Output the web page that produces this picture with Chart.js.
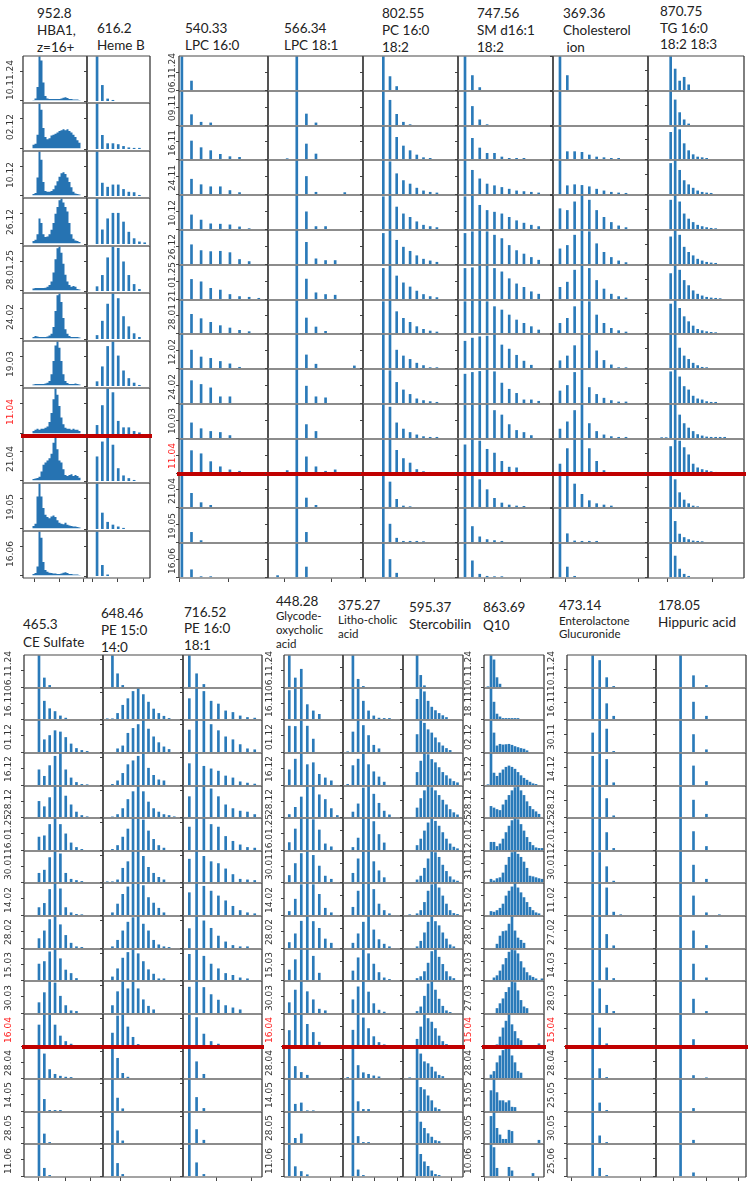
<!DOCTYPE html>
<html>
<head>
<meta charset="utf-8">
<title>Intensity patterns per sampling date</title>
<script src="https://cdn.jsdelivr.net/npm/chart.js@4.4.1/dist/chart.umd.min.js"></script>
<style>
  html, body { margin: 0; padding: 0; background: #fff; }
  #stage { position: relative; width: 754px; height: 1192px; overflow: hidden; }
  .panel { position: absolute; }
  .panel canvas { display: block; }
  .date { position: absolute; white-space: nowrap; font: 9px "DejaVu Sans", sans-serif; color: #333;
          line-height: 1; transform: translate(-50%, -50%) rotate(-90deg); z-index: 5; }
  .date.red { color: #ff2020; }
  .head { position: absolute; white-space: pre; font: 13.5px Lato, sans-serif; color: #222; line-height: 18px; height: 18px; }
  .head.small { font-size: 11.5px; }
</style>
</head>
<body>
<div id="stage"></div>
<script>
// --- sampling dates, one list per block of panels ---
const datesA = ['10.11.24', '02.12', '10.12', '26.12', '28.01.25', '24.02', '19.03', '11.04', '21.04', '19.05', '16.06'];
const datesB = ['06.11.24', '09.11', '16.11', '24.11', '10.12', '26.12', '21.01.25', '28.01', '12.02', '24.02', '10.03', '11.04', '21.04', '19.05', '16.06'];
const datesC = ['06.11.24', '16.11', '01.12', '16.12', '28.12', '16.01.25', '30.01', '14.02', '28.02', '15.03', '30.03', '16.04', '28.04', '14.05', '28.05', '11.06'];
const datesE = ['10.11.24', '18.11', '02.12', '15.12', '28.12', '12.01.25', '31.01', '15.02', '28.02', '12.03', '27.03', '15.04', '28.04', '15.05', '30.05', '10.06'];
const datesF = ['10.11.24', '16.11', '30.11', '14.12', '28.12', '12.01.25', '30.01', '11.02', '27.02', '14.03', '28.03', '15.04', '28.04', '25.05', '30.05', '25.06'];

// --- relative intensities (tallest peak = 100), one row per date, one value per m/z slot ---
const hba1 = [
  [0,0,0,0,1,4,30,100,90,40,10,4,3,3,3,3,3,3,4,6,7,5,3,3,2,2,2,1,0,0],
  [0,0,0,0,8,10,30,100,85,45,25,20,22,28,30,32,35,38,40,42,40,42,38,35,30,25,18,12,0,0],
  [0,0,0,0,3,5,40,100,80,30,10,8,8,10,14,22,32,42,50,52,48,40,30,18,8,4,3,2,0,0],
  [0,0,0,0,5,8,20,55,45,20,14,15,20,30,45,65,80,95,100,90,80,70,45,20,10,6,5,3,0,0],
  [0,0,0,0,4,5,5,5,5,5,6,8,12,20,40,70,95,100,85,60,35,20,12,8,10,8,3,2,0,0],
  [0,0,0,0,3,5,4,3,3,3,3,4,6,10,25,60,95,100,80,45,20,10,5,3,3,3,3,2,0,0],
  [0,0,0,0,2,3,3,3,3,3,4,6,10,25,55,90,100,85,55,25,10,5,3,3,3,4,3,2,0,0],
  [0,0,0,0,5,8,10,8,10,10,12,15,25,45,75,100,85,60,35,20,12,10,10,8,10,8,8,5,0,0],
  [0,0,0,0,3,4,5,8,20,35,40,45,50,60,85,100,70,45,40,25,12,10,12,14,10,12,10,6,0,0],
  [0,0,0,0,5,10,70,100,70,45,30,25,22,26,28,25,18,12,10,9,12,8,6,5,4,4,3,2,0,0],
  [0,0,0,0,3,5,20,100,85,30,12,8,6,5,4,4,3,3,4,6,7,5,3,3,2,2,2,1,0,0]
];
const hemeB = [
  [100,35,5,2],
  [100,30,12,12,10,6,3,2,2],
  [100,29,20,25,25,15,9,8,2],
  [100,31,55,67,67,48,26,12,5,3],
  [10,35,74,100,95,65,35,15,4],
  [8,39,76,100,88,49,27,12,4],
  [10,43,88,100,67,34,17,7,2],
  [19,62,100,90,28,14,14,6,3],
  [54,87,100,80,28,12,6,2],
  [100,35,15,9,5,2],
  [100,24,3]
];
const lpc160 = [
  [100,27],
  [100,31,9,7],
  [100,55,35,26,15,8,6],
  [100,44,28,22,22,11,5],
  [100,42,27,16,15,13,7,2],
  [100,57,40,37,38,34,14,8],
  [100,58,51,32,27,14,8,6,3],
  [100,57,44,33,23,16,9,5],
  [100,53,33,29,20,13,3],
  [100,66,55,45,19,19],
  [100,45,28,20,17,8],
  [100,66,57,34,19,10,6],
  [100,42,14,6],
  [100,29,5],
  [100,22,2,2]
];
const lpc181 = [
  [0,0,100],
  [0,0,100,33,7],
  [0,2,100,46,16],
  [0,0,100,52,6,0,0,5],
  [0,0,100,51,8,8],
  [0,0,100,64,16,11,11],
  [0,0,100,59,19,14,12],
  [0,0,100,46,19,6],
  [0,0,100,39,12,0,0,0,7],
  [0,0,100,50,19,16],
  [0,0,100,40,20],
  [0,8,100,48,19,6,10],
  [0,0,100,28,6],
  [0,0,100,29],
  [5,0,100,30]
];
const pc = [
  [100,40,11],
  [100,73,32,9,2],
  [100,100,66,40,26,13,5,3],
  [100,95,60,40,30,18,10,6,4],
  [95,100,65,45,35,22,12,8,5],
  [90,100,70,50,38,25,15,10,6],
  [90,100,68,48,36,24,14,8,5],
  [95,100,65,45,33,20,12,7,4],
  [100,100,53,36,26,15,8,2,2],
  [100,95,61,39,26,13,8,5,3],
  [100,91,45,27,17,10,5,3,3],
  [97,100,67,43,30,11,5,3],
  [100,76,24,4,2],
  [100,53,12,3,3,3,2],
  [100,52,12]
];
const sm = [
  [100,43,8],
  [100,55,16,2],
  [100,63,34,18,18,7,3,3,3],
  [100,70,45,30,25,20,15,10,8,6,4],
  [95,100,70,55,50,45,35,25,18,12,8],
  [90,95,100,95,85,75,55,40,30,20,12],
  [90,92,100,100,90,80,60,45,35,22,15],
  [95,100,100,95,80,70,55,40,30,20,10],
  [79,88,92,94,100,68,56,38,21,9],
  [85,90,93,100,92,59,41,29,10,10,6],
  [96,98,100,99,81,68,40,23,17,8],
  [83,100,94,70,59,35,18,16,3],
  [100,98,83,53,27,13,7,4,3],
  [100,46,16,8,5,3],
  [100,48,9,3,2,2]
];
const chol = [
  [100,43],
  [100],
  [100,23,23,21,13,7,5,3,3],
  [100,25,28,26,22,15,10,6,4,3],
  [60,55,80,100,85,55,35,20,10,5],
  [45,55,85,100,95,60,35,20,10,5],
  [35,50,85,100,90,55,30,15,8,4],
  [30,45,80,100,95,55,30,15,8,4],
  [22,36,66,100,100,51,23,10,2,2],
  [36,52,90,100,46,26,15,8,4,4],
  [27,48,81,100,43,20,10,5,3,3],
  [27,72,100,100,72,35,8,3],
  [94,100,70,39,20,11,7,4],
  [100,25,4,3,3,3],
  [100,30,3]
];
const tg = [
  [0,0,100,62,27,38,16],
  [0,0,100,74,37,16,4],
  [0,0,81,100,89,47,26,14,7,5,3],
  [0,0,90,100,70,40,28,18,10,6,4,3],
  [0,0,85,100,80,45,30,20,12,8,5,3,2],
  [0,0,80,100,85,50,35,25,15,10,6,4,3],
  [0,0,75,100,85,55,40,25,15,10,6,4,3,2],
  [0,0,88,100,75,50,35,22,12,8,5,3,2],
  [0,0,100,98,59,36,26,15,8,3,2],
  [0,0,92,100,77,49,39,21,13,10,5,3,3],
  [2,2,100,98,68,43,30,20,11,7,4,3,3,3,3],
  [0,0,78,100,94,75,54,27,16,11,8,5,3],
  [0,0,100,83,44,22,11,4,2],
  [0,0,100,61,24,14,8,4,3,2],
  [0,0,100,62,24,9,3]
];
const ceSulfate = [
  [100,29,6],
  [100,58,34,25,11,4],
  [100,39,52,67,63,46,26,12,6,3],
  [48,28,61,90,100,48,23,9,3,2],
  [51,34,63,100,100,68,40,17,6,2],
  [41,45,80,100,80,51,23,9,3],
  [29,39,79,100,91,29,10,6,3],
  [24,37,80,100,82,24,8,3,2],
  [30,54,89,100,73,40,16,5,3],
  [52,60,91,100,69,33,22,6],
  [33,64,100,94,53,24,8,6],
  [66,100,98,66,32,15,7],
  [100,78,28,13,7,4,3],
  [100,37,3,3,3],
  [100,30,3],
  [100,25,3]
];
const pe150 = [
  [0,100,42,6],
  [2,2,19,45,66,89,100,79,55,33,19,10,3],
  [0,0,11,20,59,74,86,100,72,48,30,17,9],
  [0,3,14,37,64,76,90,100,53,31,17,14],
  [0,1,9,28,57,82,100,82,49,28,17,9,6,2],
  [0,3,15,41,66,100,97,94,60,34,15,7],
  [2,2,8,45,66,98,100,83,48,29,16,8],
  [0,8,35,65,88,100,96,92,55,38,22,8],
  [0,5,25,54,81,95,100,75,54,25,11,5,3],
  [0,11,37,71,89,100,85,60,34,20,5,5],
  [0,24,67,100,76,96,76,42,22,11],
  [0,41,94,100,60,28,6,3],
  [0,100,64,16,4],
  [0,100,41,8],
  [0,100,40,8],
  [0,100,40,6]
];
const pe160 = [
  [100,42,9],
  [66,100,89,58,49,27,22,11,6,4],
  [69,100,97,86,67,48,39,24,11,8],
  [67,100,59,51,44,29,23,11,7,4],
  [66,100,100,91,66,40,28,20,17,9],
  [72,98,100,80,72,43,28,17,9,7],
  [74,100,83,66,60,43,25,10,8,6],
  [70,100,90,75,60,45,28,15,8,5],
  [61,100,85,62,38,20,9,5,5],
  [83,100,77,52,37,22,16,8,5],
  [81,100,80,58,41,24,17,11],
  [100,89,38,15,7],
  [100,53,13],
  [100,43,9],
  [100,44,10],
  [100,42,6]
];
const glyco = [
  [100,29,56],
  [92,98,100,47,27,16],
  [81,80,100,81,41],
  [48,81,100,64,70,34,23,14],
  [9,32,65,97,100,72,57,28,6],
  [24,66,100,100,95,63,20,11],
  [22,60,92,100,86,52,20,10],
  [12,50,95,100,95,65,22,8],
  [18,45,84,100,83,62,29,16],
  [33,66,100,100,77,23],
  [33,72,100,67,42,13,8],
  [49,100,100,68,43,13],
  [100,38,19,10],
  [100,22,26,2,2],
  [100,16,30],
  [100,30,15,5]
];
const litho = [
  [0,100,25,3],
  [0,100,100,58,27,11,4,3,3],
  [2,63,100,83,52,22,11],
  [3,61,81,100,64,42,26,10],
  [0,17,43,94,100,74,45,20,8],
  [0,9,38,100,100,89,49,23],
  [0,29,75,98,100,66,37,15],
  [0,25,75,100,98,80,35,15,5],
  [0,16,45,81,100,57,27,13,5],
  [0,30,72,100,85,52,25,8,3],
  [0,42,82,100,66,30,10,4],
  [0,50,100,88,55,30,12,5,3],
  [3,100,41,18,13,8,5],
  [0,100,30,6,6],
  [0,100,22,3,3],
  [0,100,20,3]
];
const sterco = [
  [0,0,100,37,5],
  [0,0,64,100,88,58,39,28,19,12,6],
  [0,0,55,100,90,70,60,45,30,20,12,6],
  [0,0,40,75,100,95,80,70,55,40,30,20,12,8],
  [0,0,30,60,85,100,95,85,70,55,40,25,15,8],
  [0,0,15,35,60,85,100,90,75,55,35,20,10,5],
  [0,0,8,20,45,75,100,95,80,55,35,18,8,4],
  [2,0,5,15,40,75,95,100,85,60,35,15,6,3],
  [0,0,5,22,48,81,100,83,70,48,29,11,5],
  [0,0,6,12,28,55,92,100,74,51,28,12,6],
  [0,0,6,20,53,91,100,72,44,22,8,3],
  [2,0,22,60,100,86,75,55,32,15,6,2],
  [2,0,100,78,53,47,36,21,10,6],
  [2,0,100,74,67,48,33,11,6],
  [0,0,100,68,48,31,20,9,6],
  [0,0,100,68,45,31,17,6,3]
];
const q10 = [
  [2,100,85,30,10],
  [0,100,55,17,8,3,3,3,3,3,3],
  [0,100,60,20,25,23,24,25,22,18,15,12,10,5],
  [2,100,38,28,38,48,56,60,56,50,40,30,22,16,10,5,3],
  [0,35,30,25,22,40,55,70,85,95,100,85,70,50,35,25,18,10],
  [0,25,25,12,20,35,55,75,92,100,95,80,60,40,25,15,8,6,6],
  [0,10,5,12,15,30,55,80,95,100,90,80,65,45,20,18,15,12,10],
  [0,12,10,15,22,35,60,75,88,100,85,70,55,40,25,15,8,5],
  [0,0,0,13,38,52,54,75,100,54,32,25,16],
  [0,0,8,15,30,50,70,90,100,95,85,60,40,25,15,10,5,0,5],
  [0,0,0,15,30,45,65,80,100,95,70,40,20,15],
  [0,0,0,5,29,57,78,100,67,46,24,18,0,0,0,0,0,8],
  [0,11,22,50,72,89,100,97,72,50,22,17],
  [0,64,100,58,33,33,27,33,13,12],
  [0,86,100,48,27,13,13,42,38,0,0,0,0,0,0,0,0,10],
  [0,100,89,25,0,0,0,28,17,0,0,0,0,0,0,9]
];
const entero = [
  [100,83,30,3],
  [98,100,50,10],
  [60,100,72,3],
  [90,100,80,8],
  [95,100,60,5],
  [100,98,55,6],
  [100,95,50,4],
  [100,100,85,10,2],
  [100,100,43,8],
  [100,100,40,6],
  [100,76,25,6],
  [100,57,8],
  [100,31,3],
  [100,26,3],
  [100,24,3],
  [100,25,3]
];
const hippuric = [
  [100,36,6],
  [100,55,10],
  [100,55,8],
  [100,60,12],
  [100,55,10],
  [100,58,12],
  [100,55,10],
  [100,60,8,2],
  [100,54,9],
  [100,52,8],
  [100,44,6],
  [100,21,2],
  [100,9,2],
  [100,9],
  [100,10],
  [100,11]
];

const Board = {
  // --- layout ---
  config: {
    BAR: '#2a7ab9',
    AREA: '#2673b2',
    RED: '#c00000',
    TICK: '#444',
    ROW_LINE: '#858585',
    COL_LINE: '#3c3c3c'
  },

  groups: {
    A: { top: 56,  bottom: 578,  dates: datesA, red: '11.04', labelX: 10 },
    B: { top: 56,  bottom: 578,  dates: datesB, red: '11.04', labelX: 172 },
    C: { top: 655, bottom: 1177, dates: datesC, red: '16.04', labelX: 8 },
    D: { top: 655, bottom: 1177, dates: datesC, red: '16.04', labelX: 269 },
    E: { top: 655, bottom: 1177, dates: datesE, red: '15.04', labelX: 468 },
    F: { top: 655, bottom: 1177, dates: datesF, red: '15.04', labelX: 551 }
  },

  columns: [
    { g: 'A', data: hba1, area: true, left: 23, right: 87, xMin: -1.25, xMax: 30.75, xTicks: [4.3, 17, 28.9], yTick: 66, yMin: -6,
      head: ['952.8', 'HBA1,', 'z=16+'], hx: 37, hy: [13, 30, 47] },
    { g: 'A', data: hemeB, left: 87, right: 150, xMin: -1.9, xMax: 10, xTicks: [-0.95, 3.8, 8.7], yTick: 66, yMin: -4,
      head: ['616.2', 'Heme B'], hx: 97, hy: [28, 45] },
    { g: 'B', data: lpc160, left: 179, right: 268, xMin: -0.3, xMax: 8.96, xTicks: [-0.2, 4.8], yTick: 53, yMin: -2,
      head: ['540.33', 'LPC 16:0'], hx: 185, hy: [28, 45] },
    { g: 'B', data: lpc181, left: 268, right: 363, xMin: -1.0, xMax: 8.9, xTicks: [0.76, 5.6], yTick: 53, yMin: -2,
      head: ['566.34', 'LPC 18:1'], hx: 284, hy: [28, 45] },
    { g: 'B', data: pc, left: 363, right: 458, xMin: -3.03, xMax: 11.15, xTicks: [-2.6, 7.7], yTick: 53, yMin: -2,
      head: ['802.55', 'PC 16:0', '18:2'], hx: 382, hy: [13, 30, 47] },
    { g: 'B', data: sm, left: 458, right: 553, xMin: -0.95, xMax: 11.94, xTicks: [2.58, 7.56], yTick: 53, yMin: -2,
      head: ['747.56', 'SM d16:1', '18:2'], hx: 477, hy: [13, 30, 47] },
    { g: 'B', data: chol, left: 553, right: 648, xMin: -0.95, xMax: 12, xTicks: [0.82, 10.7], yTick: 100, yMin: -2,
      head: ['369.36', 'Cholesterol', ' ion'], hx: 563, hy: [13, 30, 47] },
    { g: 'B', data: tg, left: 648, right: 744, xMin: -3.04, xMax: 18.3, xTicks: [1.33, 11.33], yTick: 59, yMin: -2,
      head: ['870.75', 'TG 16:0', '18:2 18:3'], hx: 660, hy: [11, 27.5, 44] },

    { g: 'C', data: ceSulfate, left: 24, right: 103, xMin: -2.8, xMax: 11.96, xTicks: [-0.1, 4.9, 9.7], yTick: 51, yMin: -2,
      head: ['465.3', 'CE Sulfate'], hx: 23, hy: [624, 642] },
    { g: 'C', data: pe150, left: 103, right: 183, xMin: -0.83, xMax: 14.7, xTicks: [2.6, 12.3], yTick: 87, yMin: -2,
      head: ['648.46', 'PE 15:0', '14:0'], hx: 101, hy: [613, 630, 647] },
    { g: 'C', data: pe160, left: 183, right: 262, xMin: -0.87, xMax: 10.0, xTicks: [3.68, 8.6], yTick: 87, yMin: -2,
      head: ['716.52', 'PE 16:0', '18:1'], hx: 184, hy: [612, 628, 645] },
    { g: 'D', data: glyco, left: 284, right: 343, xMin: -0.88, xMax: 8.95, xTicks: [1.9, 6.8], yTick: 51, yMin: -2,
      head: ['448.28', 'Glycode-', 'oxycholic', 'acid'], hx: 276, hy: [601, 616, 629.5, 643.5], small: 1 },
    { g: 'D', data: litho, left: 343, right: 403, xMin: -0.9, xMax: 10.6, xTicks: [0.9, 5.1, 9.5], yTick: 60, yMin: -2,
      head: ['375.27', 'Litho-cholic', 'acid'], hx: 338, hy: [605, 620, 634], small: 1 },
    { g: 'D', data: sterco, left: 403, right: 463, xMin: -1.83, xMax: 14.5, xTicks: [1.7, 6.4, 11.3], yTick: 55, yMin: -2,
      head: ['595.37', 'Stercobilin'], hx: 409, hy: [606.5, 623.5] },
    { g: 'E', data: q10, left: 484, right: 544, xMin: -1.33, xMax: 18.67, xTicks: [-1.0, 7.3, 16.8], yTick: 60, yMin: -2,
      head: ['863.69', 'Q10'], hx: 483, hy: [607, 625] },
    { g: 'F', data: entero, left: 567, right: 656, xMin: -3.67, xMax: 9.04, xTicks: [-3.0, 6.86], yTick: 55, yMin: -2,
      head: ['473.14', 'Enterolactone', 'Glucuronide'], hx: 559, hy: [605, 620.5, 634], small: 1 },
    { g: 'F', data: hippuric, left: 656, right: 746, xMin: -1.9, xMax: 5.06, xTicks: [-0.52, 2.0, 4.5], yTick: 55, yMin: -2,
      head: ['178.05', 'Hippuric acid'], hx: 658, hy: [605, 622] }
  ],

  stage: null,

  init() {
    this.stage = document.getElementById('stage');
    this.drawHeaders();
    this.drawDates();
    this.columns.forEach(col => {
      const grp = this.groups[col.g];
      grp.dates.forEach((d, r) => this.makePanel(col, grp, r));
    });
  },

  drawHeaders() {
    this.columns.forEach(col => {
      col.head.forEach((txt, i) => {
        const el = document.createElement('div');
        el.className = 'head' + (col.small && i >= col.small ? ' small' : '');
        el.textContent = txt;
        el.style.left = col.hx + 'px';
        el.style.top = (col.hy[i] - 9) + 'px';
        this.stage.appendChild(el);
      });
    });
  },

  drawDates() {
    Object.values(this.groups).forEach(grp => {
      const h = (grp.bottom - grp.top) / grp.dates.length;
      grp.dates.forEach((d, r) => {
        const el = document.createElement('div');
        el.className = 'date' + (d === grp.red ? ' red' : '');
        el.textContent = d;
        el.style.left = grp.labelX + 'px';
        el.style.top = (grp.top + (r + 0.5) * h) + 'px';
        this.stage.appendChild(el);
      });
    });
  },

  // frame of each small panel, plus the thick red separator under the marked date
  framePlugin: {
    id: 'panelFrame',
    afterDatasetsDraw(chart, args, opts) {
      const { ctx, chartArea: a } = chart;
      ctx.save();
      ctx.lineWidth = 1.4;
      ctx.strokeStyle = opts.rowColor;
      ctx.beginPath();
      ctx.moveTo(a.left, a.top); ctx.lineTo(a.right, a.top);
      ctx.moveTo(a.left, a.bottom); ctx.lineTo(a.right, a.bottom);
      ctx.stroke();
      ctx.lineWidth = 1.3;
      ctx.strokeStyle = opts.colColor;
      ctx.beginPath();
      ctx.moveTo(a.left, a.top); ctx.lineTo(a.left, a.bottom);
      ctx.moveTo(a.right, a.top); ctx.lineTo(a.right, a.bottom);
      ctx.stroke();
      if (opts.red) {
        ctx.lineWidth = 4;
        ctx.strokeStyle = opts.redColor;
        ctx.beginPath();
        ctx.moveTo(a.left - 2, a.bottom); ctx.lineTo(a.right + 2, a.bottom);
        ctx.stroke();
      }
      ctx.restore();
    }
  },

  makePanel(col, grp, r) {
    const cfg = this.config;
    const n = grp.dates.length;
    const h = (grp.bottom - grp.top) / n;
    const T = Math.round(grp.top + r * h);
    const H = Math.round(grp.top + (r + 1) * h) - T;
    const W = col.right - col.left;
    const last = r === n - 1;
    const red = grp.dates[r] === grp.red;

    const box = document.createElement('div');
    box.className = 'panel';
    box.style.left = (col.left - 4) + 'px';
    box.style.top = (T - 2) + 'px';
    if (red) box.style.zIndex = 3;
    const cv = document.createElement('canvas');
    cv.width = W + 6;
    cv.height = H + 2 + (last ? 6 : 3);
    box.appendChild(cv);
    this.stage.appendChild(box);

    const pts = col.data[r].map((v, i) => ({ x: i, y: v }));
    const dataset = col.area
      ? { data: pts, fill: 'origin', backgroundColor: cfg.AREA, borderWidth: 0, pointRadius: 0, pointHoverRadius: 0, stepped: 'middle' }
      : { data: pts.filter(p => p.y > 0), backgroundColor: cfg.BAR, borderWidth: 0, barThickness: 2 };

    new Chart(cv, {
      type: col.area ? 'line' : 'bar',
      data: { datasets: [dataset] },
      options: {
        responsive: false,
        animation: false,
        events: [],
        layout: { autoPadding: false, padding: { top: 2, right: 2, bottom: last ? 0 : 3, left: 0 } },
        plugins: {
          legend: { display: false },
          tooltip: { enabled: false },
          panelFrame: { rowColor: cfg.ROW_LINE, colColor: cfg.COL_LINE, red: red, redColor: cfg.RED }
        },
        scales: {
          x: {
            type: 'linear', min: col.xMin, max: col.xMax, bounds: 'data', offset: false,
            display: last,
            border: { display: false },
            ticks: { display: false },
            grid: { display: true, offset: false, drawOnChartArea: false, drawTicks: true, tickLength: 4, color: cfg.TICK },
            afterBuildTicks: ax => { ax.ticks = col.xTicks.map(v => ({ value: v })); },
            // only the bottom row shows its tick marks
            afterFit: ax => { ax.height = last ? 6 : 0; }
          },
          y: {
            type: 'linear', min: col.yMin, max: 100, bounds: 'data',
            display: true,
            border: { display: false },
            ticks: { display: false },
            grid: { display: true, drawOnChartArea: false, drawTicks: true, tickLength: 3, color: cfg.TICK },
            afterBuildTicks: ax => { ax.ticks = [{ value: 0 }, { value: col.yTick }]; },
            afterFit: ax => { ax.width = 4; }
          }
        }
      },
      plugins: [this.framePlugin]
    });
  }
};

document.addEventListener('DOMContentLoaded', () => Board.init());
</script>
</body>
</html>
